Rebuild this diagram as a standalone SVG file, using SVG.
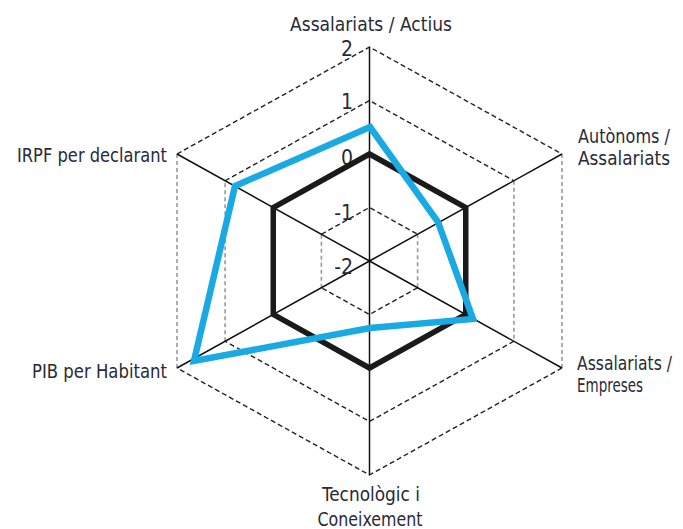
<svg xmlns="http://www.w3.org/2000/svg" width="683" height="529" viewBox="0 0 683 529">
<style>
.gd{stroke:#222;stroke-width:1.4;stroke-dasharray:5 3;fill:none}
.gv{stroke:#999;stroke-width:1.6;stroke-dasharray:4 3;fill:none}
.sp{stroke:#111;stroke-width:1.5;fill:none}
.lb{font-family:"Liberation Sans Narrow","DejaVu Sans Condensed","Liberation Sans",sans-serif;font-size:19px;fill:#2a2a35}
.nm{font-family:"Liberation Sans Narrow","DejaVu Sans Condensed","Liberation Sans",sans-serif;font-size:21px;fill:#2a2a35;text-anchor:end}
</style>
<rect width="683" height="529" fill="#fff"/>
<g id="grid">
<path class="gd" d="M177,154 L369.5,47 L562,154 M562,368 L369.5,475 L177,368"/>
<path class="gv" d="M562,154 L562,368 M177,368 L177,154"/>
<path class="gd" d="M225.1,180.75 L369.5,100.5 L513.9,180.75 M513.9,341.25 L369.5,421.5 L225.1,341.25"/>
<path class="gv" d="M513.9,180.75 L513.9,341.25 M225.1,341.25 L225.1,180.75"/>
<path class="gd" d="M273.25,207.5 L369.5,154 L465.75,207.5 M465.75,314.5 L369.5,368 L273.25,314.5"/>
<path class="gd" d="M321.4,234.25 L369.5,207.5 L417.6,234.25 M417.6,287.75 L369.5,314.5 L321.4,287.75"/>
<path class="gv" d="M417.6,234.25 L417.6,287.75 M321.4,287.75 L321.4,234.25"/>
</g>
<g id="spokes">
<path class="sp" d="M369.5,261 L369.5,47 M369.5,261 L562,154 M369.5,261 L562,368 M369.5,261 L369.5,475 M369.5,261 L177,368 M369.5,261 L177,154"/>
</g>
<g id="scale">
<text class="nm" x="353" y="56">2</text>
<text class="nm" x="353" y="109">1</text>
<text class="nm" x="353" y="165">0</text>
<text class="nm" x="353" y="220">-1</text>
<text class="nm" x="353" y="274">-2</text>
</g>
<g id="series-reference">
<polygon points="369.5,154 465.75,207.5 465.75,314.5 369.5,368 273.25,314.5 273.25,207.5" fill="none" stroke="#1a1a1a" stroke-width="5.5" stroke-linejoin="miter"/>
</g>
<g id="series-value">
<polygon points="370,127 438,222 473,319 370,328 194,361 235,186" fill="none" stroke="#19a9e3" stroke-width="6.5" stroke-linejoin="miter"/>
</g>
<g id="axis-actius"><text class="lb" x="371" y="31" text-anchor="middle" textLength="162" lengthAdjust="spacingAndGlyphs">Assalariats / Actius</text></g>
<g id="axis-autonoms">
<text class="lb" x="578" y="143" textLength="92" lengthAdjust="spacingAndGlyphs">Autònoms /</text>
<text class="lb" x="578" y="165" textLength="92" lengthAdjust="spacingAndGlyphs">Assalariats</text>
</g>
<g id="axis-empreses">
<text class="lb" x="577" y="370" textLength="95" lengthAdjust="spacingAndGlyphs">Assalariats /</text>
<text class="lb" x="577" y="392" textLength="66" lengthAdjust="spacingAndGlyphs">Empreses</text>
</g>
<g id="axis-tecnologic">
<text class="lb" x="371" y="501" text-anchor="middle" textLength="98" lengthAdjust="spacingAndGlyphs">Tecnològic i</text>
<text class="lb" x="370" y="526" text-anchor="middle" textLength="105" lengthAdjust="spacingAndGlyphs">Coneixement</text>
</g>
<g id="axis-pib"><text class="lb" x="167" y="378" text-anchor="end" textLength="135" lengthAdjust="spacingAndGlyphs">PIB per Habitant</text></g>
<g id="axis-irpf"><text class="lb" x="167" y="162" text-anchor="end" textLength="150" lengthAdjust="spacingAndGlyphs">IRPF per declarant</text></g>
</svg>
